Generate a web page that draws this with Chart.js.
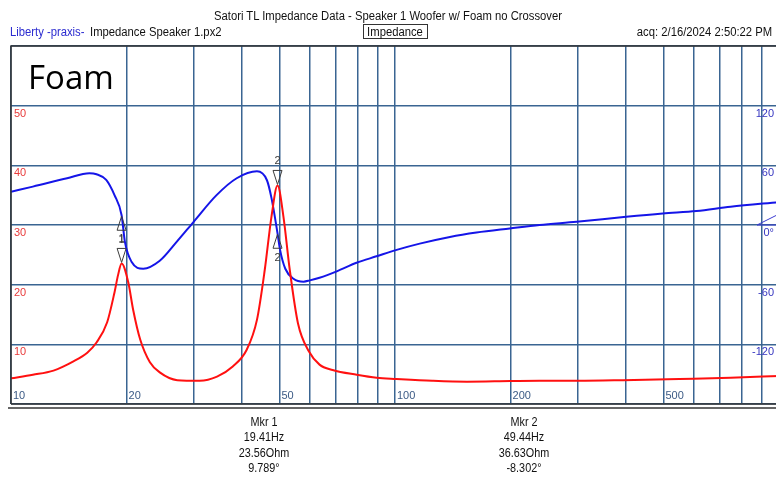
<!DOCTYPE html>
<html><head><meta charset="utf-8">
<script src="https://cdn.jsdelivr.net/npm/chart.js@4.4.1/dist/chart.umd.min.js"></script>
<style>
html,body{margin:0;padding:0;background:#fff;overflow:hidden;width:776px;height:477px;}
#wrap{position:relative;width:776px;height:477px;overflow:hidden;}
canvas{position:absolute;left:0;top:0;}
.t{position:absolute;white-space:nowrap;line-height:1;font-family:"Liberation Sans Narrow","Liberation Sans",sans-serif;font-size:12.5px;color:#111;}
.m{position:absolute;width:120px;text-align:center;white-space:nowrap;line-height:15.4px;font-family:"Liberation Sans Narrow","Liberation Sans",sans-serif;font-size:12px;color:#111;transform-origin:center;}
#foam{position:absolute;left:28px;top:60px;font-family:"Open Sans",sans-serif;font-size:33px;line-height:1;color:#000;}
#box{position:absolute;left:363px;top:24px;width:63px;height:13px;border:1px solid #333;}
</style></head><body>
<div id="wrap">
<canvas id="c" width="790" height="477"></canvas>
<div class="t" id="title" style="left:0;top:10px;width:776px;text-align:center;transform-origin:center;"><span id="ts">Satori TL Impedance Data - Speaker 1 Woofer w/ Foam no Crossover</span></div>
<div class="t" style="left:10px;top:26px;color:#2b2bd0;transform-origin:left;">Liberty -praxis-</div>
<div class="t" style="left:90px;top:26px;transform-origin:left;">Impedance Speaker 1.px2</div>
<div id="box"></div>
<div class="t" style="left:335px;top:26px;width:120px;text-align:center;transform-origin:center;">Impedance</div>
<div class="t" style="right:4px;top:26px;transform-origin:right;">acq: 2/16/2024 2:50:22 PM</div>
<div id="foam">Foam</div>
<div class="m" style="left:204px;top:415px;">Mkr 1<br>19.41Hz<br>23.56Ohm<br>9.789°</div>
<div class="m" style="left:464px;top:415px;">Mkr 2<br>49.44Hz<br>36.63Ohm<br>-8.302°</div>
</div>
<script>
// ---- data ----
const redFreq = [10, 11.4, 12.9, 14.5, 15.8, 16.7, 17.8, 18.6, 19.0, 19.41, 20.2, 20.8, 21.7, 23.0, 24.4, 27.1, 31, 34.4, 37.8, 41.1, 43.7, 45.8, 47.7, 49.44, 51.2, 53.2, 55.9, 59.7, 63.6, 68.8, 79.5, 89.6, 101, 125, 154, 200, 238, 300, 392, 550, 748, 1000];
const redOhm  = [4.3, 4.9, 5.6, 7.1, 8.6, 10.3, 13.7, 18.7, 21.6, 23.56, 20.4, 15.8, 10.8, 7.0, 5.3, 4.0, 3.9, 4.6, 6.3, 9.1, 14.1, 22.5, 31.5, 36.63, 31.5, 22.5, 13.5, 8.8, 6.6, 5.7, 4.9, 4.4, 4.2, 3.9, 3.75, 3.85, 3.9, 3.9, 4.0, 4.2, 4.4, 4.7];
const bluFreq = [10, 11.4, 14.0, 16.0, 16.7, 17.7, 18.6, 19.41, 19.8, 20.6, 22.1, 24.4, 27.0, 29.9, 34.3, 38.7, 43.7, 46.4, 47.7, 49.44, 50.2, 51.8, 54.4, 57.8, 60, 63.6, 70.5, 79.4, 89.5, 101, 116, 139, 163, 199, 238, 297, 400, 498, 610, 748, 1000];
const bluDeg  = [33.5, 38.6, 47, 52, 51, 45.3, 30, 9.8, -17, -37, -44, -36, -17, 3.2, 30, 47, 54, 45, 26.8, -8.3, -25, -44, -54, -57, -55.7, -53, -46.6, -38, -31.5, -25, -18.7, -12, -7.6, -3.5, 0, 3.2, 8.3, 11.6, 14, 18.4, 23];
const xGridTicks  = [10, 20, 30, 40, 50, 60, 70, 80, 90, 100, 200, 300, 400, 500, 600, 700, 800, 900, 1000];
const xLabelTicks = [10, 20, 50, 100, 200, 500];
const ohmLabels = [10, 20, 30, 40, 50];
const degLabels = [-120, -60, 0, 60, 120];
const mkrFreq = [19.41, 49.44];
const mkrOhm  = [23.56, 36.63];
const mkrDeg  = [9.789, -8.302];
const mkrName = ['1', '2'];

// ---- text width fit ----
(function(){
  const w = document.getElementById('ts').getBoundingClientRect().width;
  const s = 348 / w;
  document.querySelectorAll('.t,.m').forEach(el => { el.style.transform = 'scaleX(' + s + ')'; });
})();

const GRID = '#3a6592';
const markerPlugin = {
  id: 'markers',
  afterDraw(chart) {
    const {ctx, chartArea: a, scales: {x, y, y1}} = chart;
    ctx.save();
    // frame
    ctx.strokeStyle = '#333'; ctx.lineWidth = 1.5;
    ctx.beginPath();
    ctx.moveTo(a.left, a.bottom); ctx.lineTo(a.left, a.top); ctx.lineTo(a.right, a.top);
    ctx.moveTo(a.left, a.bottom); ctx.lineTo(a.right, a.bottom);
    ctx.stroke();
    ctx.strokeStyle = '#666'; ctx.lineWidth = 2;
    ctx.beginPath(); ctx.moveTo(a.left - 3, a.bottom + 4); ctx.lineTo(a.right, a.bottom + 4); ctx.stroke();
    // markers
    ctx.strokeStyle = '#3c3c3c'; ctx.fillStyle = '#3c3c3c'; ctx.lineWidth = 1;
    ctx.font = '11px "Liberation Sans"'; ctx.textAlign = 'center'; ctx.textBaseline = 'alphabetic';
    const tri = (px, tip, dir) => {
      ctx.beginPath();
      ctx.moveTo(px, tip);
      ctx.lineTo(px - 4.5, tip + dir * 14);
      ctx.lineTo(px + 4.5, tip + dir * 14);
      ctx.closePath(); ctx.stroke();
    };
    mkrFreq.forEach((f, i) => {
      const px = x.getPixelForValue(f);
      const pr = y.getPixelForValue(mkrOhm[i]);
      const pp = y1.getPixelForValue(mkrDeg[i]);
      tri(px, pr - 1, -1);
      ctx.fillText(mkrName[i], px, pr - 21);
      tri(px, pp + 1, 1);
      ctx.fillText(mkrName[i], px, pp + 28);
    });
    // phase reference marker at right edge
    const y0 = y1.getPixelForValue(0);
    ctx.strokeStyle = '#3b3bd0';
    ctx.beginPath(); ctx.moveTo(a.right - 22, y0); ctx.lineTo(a.right, y0 - 11); ctx.lineTo(a.right, y0); ctx.closePath(); ctx.stroke();
    ctx.restore();
  }
};

new Chart(document.getElementById('c'), {
  type: 'line',
  data: {
    datasets: [
      { label: 'Impedance', data: redFreq.map((f, i) => ({x: f, y: redOhm[i]})), yAxisID: 'y',
        borderColor: '#ff1010', borderWidth: 2, pointRadius: 0, cubicInterpolationMode: 'monotone' },
      { label: 'Phase', data: bluFreq.map((f, i) => ({x: f, y: bluDeg[i]})), yAxisID: 'y1',
        borderColor: '#1515e8', borderWidth: 2, pointRadius: 0, cubicInterpolationMode: 'monotone' }
    ]
  },
  options: {
    responsive: false, animation: false, devicePixelRatio: 1,
    layout: { padding: { left: 11, right: 11, top: 46, bottom: 73 } },
    plugins: { legend: { display: false }, tooltip: { enabled: false }, title: { display: false } },
    scales: {
      x: {
        type: 'logarithmic', min: 10, max: 1000,
        afterBuildTicks: s => { s.ticks = xGridTicks.map(v => ({value: v})); },
        afterFit: s => { s.height = 0; },
        grid: { color: GRID, lineWidth: 1.5, drawTicks: false },
        border: { display: false },
        ticks: { mirror: true, autoSkip: false, maxRotation: 0, minRotation: 0, align: 'start', padding: 1, labelOffset: 2,
          color: '#3b5a85', font: { family: 'Liberation Sans', size: 11 },
          callback: v => xLabelTicks.includes(v) ? String(v) : '' }
      },
      y: {
        position: 'left', min: 0, max: 60,
        afterBuildTicks: s => { s.ticks = [0, 10, 20, 30, 40, 50, 60].map(v => ({value: v})); },
        afterFit: s => { s.width = 0; },
        grid: { color: GRID, lineWidth: 1.5, drawTicks: false },
        border: { display: false },
        ticks: { mirror: true, padding: 3, labelOffset: 8, color: '#e83a3a', font: { family: 'Liberation Sans', size: 11 },
          callback: v => ohmLabels.includes(v) ? String(v) : '' }
      },
      y1: {
        position: 'right', min: -180, max: 180,
        afterBuildTicks: s => { s.ticks = [-180, -120, -60, 0, 60, 120, 180].map(v => ({value: v})); },
        afterFit: s => { s.width = 0; },
        grid: { display: false, drawTicks: false },
        border: { display: false },
        ticks: { mirror: true, padding: -5, labelOffset: 8, color: '#3535c0', font: { family: 'Liberation Sans', size: 11 },
          callback: v => degLabels.includes(v) ? (v === 0 ? '0°' : String(v)) : '' }
      }
    }
  },
  plugins: [markerPlugin]
});
</script>
</body></html>
